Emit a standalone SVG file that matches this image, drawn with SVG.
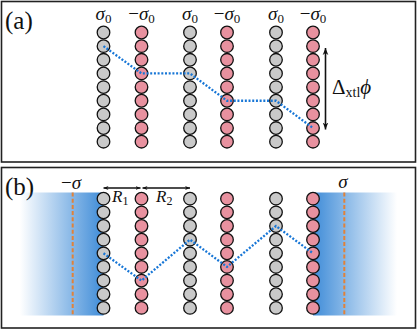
<svg xmlns="http://www.w3.org/2000/svg" width="417" height="330" viewBox="0 0 417 330">
<defs>
<style>
.frame{fill:#fff;stroke:#222;stroke-width:1.6}
.g{fill:#c9c9c9;stroke:#111;stroke-width:1.3}
.p{fill:#e8919f;stroke:#111;stroke-width:1.3}
.lbl{font-family:"Liberation Serif","DejaVu Serif",serif;fill:#111}
.it{font-style:italic}
.dot{fill:none;stroke:#1776d6;stroke-width:2.3;stroke-dasharray:2 1.7}
.dash{stroke:#e0823a;stroke-width:2;stroke-dasharray:4 2.2}
.arr{stroke:#111;stroke-width:1.6;fill:none}
</style>
<marker id="ah" viewBox="0 0 10 10" refX="10" refY="5" markerWidth="7" markerHeight="7" markerUnits="userSpaceOnUse" orient="auto-start-reverse">
<path d="M0,1 L10,5 L0,9 L3,5 Z" fill="#111"/>
</marker>
<marker id="ah2" viewBox="0 0 10 10" refX="10" refY="5" markerWidth="5" markerHeight="5" markerUnits="userSpaceOnUse" orient="auto-start-reverse">
<path d="M0,1 L10,5 L0,9 L3,5 Z" fill="#111"/>
</marker>
<linearGradient id="gl" x1="0" y1="0" x2="1" y2="0">
<stop offset="0" stop-color="#3f8cd8" stop-opacity="0"/>
<stop offset="1" stop-color="#3f8cd8" stop-opacity="1"/>
</linearGradient>
<linearGradient id="gr" x1="1" y1="0" x2="0" y2="0">
<stop offset="0" stop-color="#3f8cd8" stop-opacity="0"/>
<stop offset="1" stop-color="#3f8cd8" stop-opacity="1"/>
</linearGradient>
<g id="colA-g">
<circle class="g" cx="0" cy="32.5" r="6.3"/><circle class="g" cx="0" cy="46.15" r="6.3"/><circle class="g" cx="0" cy="59.8" r="6.3"/><circle class="g" cx="0" cy="73.45" r="6.3"/><circle class="g" cx="0" cy="87.1" r="6.3"/><circle class="g" cx="0" cy="100.75" r="6.3"/><circle class="g" cx="0" cy="114.4" r="6.3"/><circle class="g" cx="0" cy="128.05" r="6.3"/><circle class="g" cx="0" cy="141.7" r="6.3"/>
</g>
<g id="colA-p">
<circle class="p" cx="0" cy="32.5" r="6.3"/><circle class="p" cx="0" cy="46.15" r="6.3"/><circle class="p" cx="0" cy="59.8" r="6.3"/><circle class="p" cx="0" cy="73.45" r="6.3"/><circle class="p" cx="0" cy="87.1" r="6.3"/><circle class="p" cx="0" cy="100.75" r="6.3"/><circle class="p" cx="0" cy="114.4" r="6.3"/><circle class="p" cx="0" cy="128.05" r="6.3"/><circle class="p" cx="0" cy="141.7" r="6.3"/>
</g>
</defs>

<g id="panel-a">
<rect class="frame" x="1.5" y="1.5" width="414" height="160.5"/>
<text class="lbl" font-family="Liberation Serif, serif" x="5" y="29" font-size="25">(a)</text>
</g>
<g id="panel-b">
<rect class="frame" x="1.5" y="167.5" width="414" height="160.5"/>
<text class="lbl" font-family="Liberation Serif, serif" x="5" y="195" font-size="25">(b)</text>
<rect x="20" y="192.5" width="83.5" height="123" fill="url(#gl)"/>
<rect x="313" y="192.5" width="84" height="123" fill="url(#gr)"/>
<line class="dash" x1="72.7" y1="192.5" x2="72.7" y2="315.5"/>
<line class="dash" x1="344.3" y1="192.5" x2="344.3" y2="315.5"/>
<text class="lbl" font-family="Liberation Serif, serif" x="71" y="189" font-size="19" text-anchor="middle"><tspan>−</tspan><tspan class="it">σ</tspan></text>
<text class="lbl it" font-family="Liberation Serif, serif" x="343" y="188" font-size="19" text-anchor="middle">σ</text>
</g>

<g id="labels-a" font-family="Liberation Serif, serif">
<text class="lbl" x="103.5" y="20" font-size="19" text-anchor="middle"><tspan class="it">σ</tspan><tspan font-size="13" dy="3">0</tspan></text>
<text class="lbl" x="141.5" y="20" font-size="19" text-anchor="middle"><tspan>−</tspan><tspan class="it">σ</tspan><tspan font-size="13" dy="3">0</tspan></text>
<text class="lbl" x="190" y="20" font-size="19" text-anchor="middle"><tspan class="it">σ</tspan><tspan font-size="13" dy="3">0</tspan></text>
<text class="lbl" x="227" y="20" font-size="19" text-anchor="middle"><tspan>−</tspan><tspan class="it">σ</tspan><tspan font-size="13" dy="3">0</tspan></text>
<text class="lbl" x="276" y="20" font-size="19" text-anchor="middle"><tspan class="it">σ</tspan><tspan font-size="13" dy="3">0</tspan></text>
<text class="lbl" x="313" y="20" font-size="19" text-anchor="middle"><tspan>−</tspan><tspan class="it">σ</tspan><tspan font-size="13" dy="3">0</tspan></text>
</g>

<g id="a-col1"><use href="#colA-g" x="103.5"/></g>
<g id="a-col2"><use href="#colA-p" x="141.5"/></g>
<g id="a-col3"><use href="#colA-g" x="190"/></g>
<g id="a-col4"><use href="#colA-p" x="227"/></g>
<g id="a-col5"><use href="#colA-g" x="276"/></g>
<g id="a-col6"><use href="#colA-p" x="313"/></g>

<g id="b-col1"><use href="#colA-g" x="103.5" y="166.2"/></g>
<g id="b-col2"><use href="#colA-p" x="141.5" y="166.2"/></g>
<g id="b-col3"><use href="#colA-g" x="190" y="166.2"/></g>
<g id="b-col4"><use href="#colA-p" x="227" y="166.2"/></g>
<g id="b-col5"><use href="#colA-g" x="276" y="166.2"/></g>
<g id="b-col6"><use href="#colA-p" x="313" y="166.2"/></g>

<g id="connectors">
<polyline class="dot" points="103.5,46.15 141.5,73.45 190,73.45 227,100.75 276,100.75 313,128.05"/>
<polyline class="dot" points="103.5,253.3 141.5,280.6 190,239.6 227,266.9 276,226 313,253.3"/>
<line class="arr" x1="325.5" y1="48" x2="325.5" y2="129.5" marker-start="url(#ah)" marker-end="url(#ah)"/>
<line class="arr" x1="103.5" y1="188" x2="140.5" y2="188" stroke-width="1.3" marker-start="url(#ah2)" marker-end="url(#ah2)"/>
<line class="arr" x1="142.5" y1="188" x2="190" y2="188" stroke-width="1.3" marker-start="url(#ah2)" marker-end="url(#ah2)"/>
</g>

<g id="text-labels" font-family="Liberation Serif, serif">
<text class="lbl" x="332" y="94" font-size="21"><tspan>Δ</tspan><tspan font-size="14" dy="3">xtl</tspan><tspan class="it" dy="-3">ϕ</tspan></text>
<text class="lbl it" x="112" y="202" font-size="17">R<tspan font-size="12" font-style="normal" dy="3">1</tspan></text>
<text class="lbl it" x="156" y="202" font-size="17">R<tspan font-size="12" font-style="normal" dy="3">2</tspan></text>
</g>
</svg>
